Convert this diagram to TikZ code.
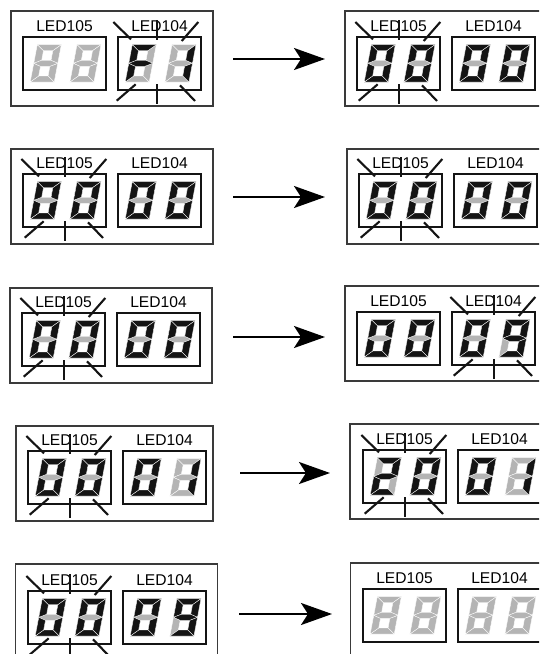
\documentclass[tikz,border=0pt]{standalone}
\usepackage{fontspec}
\setmainfont{Liberation Sans}
\usetikzlibrary{arrows.meta}

\definecolor{ledon}{HTML}{141414}
\definecolor{ledoff}{HTML}{B4B4B4}
\definecolor{frameline}{HTML}{3A3A3A}

\tikzset{
  sega/.style={insert path={(0,0) -- (24,0) -- (16.7,6) -- (7.3,6) -- cycle}},
  segb/.style={insert path={(24,0) -- (24,18.6) -- (16.7,15.6) -- (16.7,6) -- cycle}},
  segc/.style={insert path={(24,18.6) -- (24,37.3) -- (16.7,31.3) -- (16.7,21.6) -- cycle}},
  segd/.style={insert path={(0,37.3) -- (24,37.3) -- (16.7,31.3) -- (7.3,31.3) -- cycle}},
  sege/.style={insert path={(0,18.6) -- (7.3,21.6) -- (7.3,31.3) -- (0,37.3) -- cycle}},
  segf/.style={insert path={(0,0) -- (7.3,6) -- (7.3,15.6) -- (0,18.6) -- cycle}},
  segg/.style={insert path={(0,18.6) -- (7.3,15.6) -- (16.7,15.6) -- (24,18.6) -- (16.7,21.6) -- (7.3,21.6) -- cycle}},
  segnone/.style={}
}

\newcommand{\dzero}{a,b,c,d,e,f}
\newcommand{\done}{b,c}
\newcommand{\dtwo}{a,b,d,e,g}
\newcommand{\dnine}{a,b,c,d,f,g}
\newcommand{\dF}{a,e,f,g}
\newcommand{\dnone}{none}

% one digit: x, y, lit segments
\newcommand{\leddigit}[3]{
  \begin{scope}[shift={(#1,#2)}, xslant=0.19]
    \foreach \s in {a,b,c,d,e,f,g} \path[segoff, seg\s];
    \foreach \s in #3 \path[segon, seg\s];
  \end{scope}
}

% one display: name, x, y, label, left digit, right digit
\newcommand{\ledbox}[6]{
  \node[ledframe] (#1) at (#2+41.5,#3+26.5) {};
  \node[ledlabel] (#1t) at (#2+41.5,#3-10.5) {#4};
  \leddigit{#2+14.3}{#3+7.7}{#5}
  \leddigit{#2+54}{#3+7.7}{#6}
}

% blink marks round a display: x, y
\newcommand{\ledrays}[2]{
  \foreach \ax/\ay/\bx/\by in {-1.7/-15/16/2.3, 42/-17/42/3.3, 83.3/-15/66.7/4,
                               1.7/63.7/20.7/47.3, 42/47.3/42/66.7, 65/48.3/80/64}
    \draw[blink] (#1+\ax,#2+\ay) -- (#1+\bx,#2+\by);
}

\begin{document}
\begin{tikzpicture}[
  x=1pt, y=-1pt,
  every node/.style={inner sep=0pt, outer sep=0pt},
  ledpanel/.style={draw=frameline, line width=1.3pt, anchor=north west, minimum height=95pt},
  ledframe/.style={draw=ledon, line width=1.2pt, minimum width=83pt, minimum height=53pt},
  ledlabel/.style={font=\fontsize{15.6}{16}\selectfont},
  segon/.style={fill=ledon, draw=white, line width=0.35pt},
  segoff/.style={fill=ledoff, draw=white, line width=0.35pt},
  blink/.style={draw=ledon, line width=2.1pt},
  flow/.style={->, line width=2.3pt},
  >={Stealth[length=31pt, width=22pt, inset=7pt]}
]
\useasboundingbox (0,0) rectangle (539,654);
\clip (0,0) rectangle (539,654);

% Row 1
\node[ledpanel, minimum width=202pt] (pa) at (11,11) {};
\ledbox{pal}{23}{37}{LED105}{\dnone}{\dnone}
\ledbox{par}{118}{37}{LED104}{\dF}{\done}
\ledrays{115}{37}
\coordinate (fas) at (233,59);
\coordinate (fae) at (325,59);
\draw[flow] (fas) -- (fae);
\node[ledpanel, minimum width=300pt] (qa) at (345,11) {};
\ledbox{qal}{357}{37}{LED105}{\dzero}{\dzero}
\ledbox{qar}{452}{37}{LED104}{\dzero}{\dzero}
\ledrays{357}{37}

% Row 2
\node[ledpanel, minimum width=202pt] (pb) at (11,149) {};
\ledbox{pbl}{23}{174}{LED105}{\dzero}{\dzero}
\ledbox{pbr}{118}{174}{LED104}{\dzero}{\dzero}
\ledrays{23}{174}
\coordinate (fbs) at (233,197);
\coordinate (fbe) at (325,197);
\draw[flow] (fbs) -- (fbe);
\node[ledpanel, minimum width=300pt] (qb) at (347,149) {};
\ledbox{qbl}{359}{174}{LED105}{\dzero}{\dzero}
\ledbox{qbr}{454}{174}{LED104}{\dzero}{\dzero}
\ledrays{359}{174}

% Row 3
\node[ledpanel, minimum width=202pt] (pc) at (10,288) {};
\ledbox{pcl}{22}{313}{LED105}{\dzero}{\dzero}
\ledbox{pcr}{117}{313}{LED104}{\dzero}{\dzero}
\ledrays{22}{313}
\coordinate (fcs) at (233,337);
\coordinate (fce) at (325,337);
\draw[flow] (fcs) -- (fce);
\node[ledpanel, minimum width=300pt] (qc) at (345,286) {};
\ledbox{qcl}{357}{312}{LED105}{\dzero}{\dzero}
\ledbox{qcr}{452}{312}{LED104}{\dzero}{\dnine}
\ledrays{452}{312}

% Row 4
\node[ledpanel, minimum width=197pt] (pd) at (16,426) {};
\ledbox{pdl}{28}{451}{LED105}{\dzero}{\dzero}
\ledbox{pdr}{123}{451}{LED104}{\dzero}{\done}
\ledrays{28}{451}
\coordinate (fds) at (240,473);
\coordinate (fde) at (330,473);
\draw[flow] (fds) -- (fde);
\node[ledpanel, minimum width=300pt] (qd) at (350,424) {};
\ledbox{qdl}{363}{450}{LED105}{\dtwo}{\dzero}
\ledbox{qdr}{458}{450}{LED104}{\dzero}{\done}
\ledrays{363}{450}

% Row 5
\node[ledpanel, minimum width=202pt, minimum height=120pt] (pe) at (15.5,564) {};
\ledbox{pel}{28}{591}{LED105}{\dzero}{\dzero}
\ledbox{per}{123}{591}{LED104}{\dzero}{\dnine}
\ledrays{28}{591}
\coordinate (fes) at (239,614);
\coordinate (fee) at (332,614);
\draw[flow] (fes) -- (fee);
\node[ledpanel, minimum width=300pt, minimum height=120pt] (qe) at (350.5,563) {};
\ledbox{qel}{363}{589}{LED105}{\dnone}{\dnone}
\ledbox{qer}{458}{589}{LED104}{\dnone}{\dnone}
\end{tikzpicture}
\end{document}
